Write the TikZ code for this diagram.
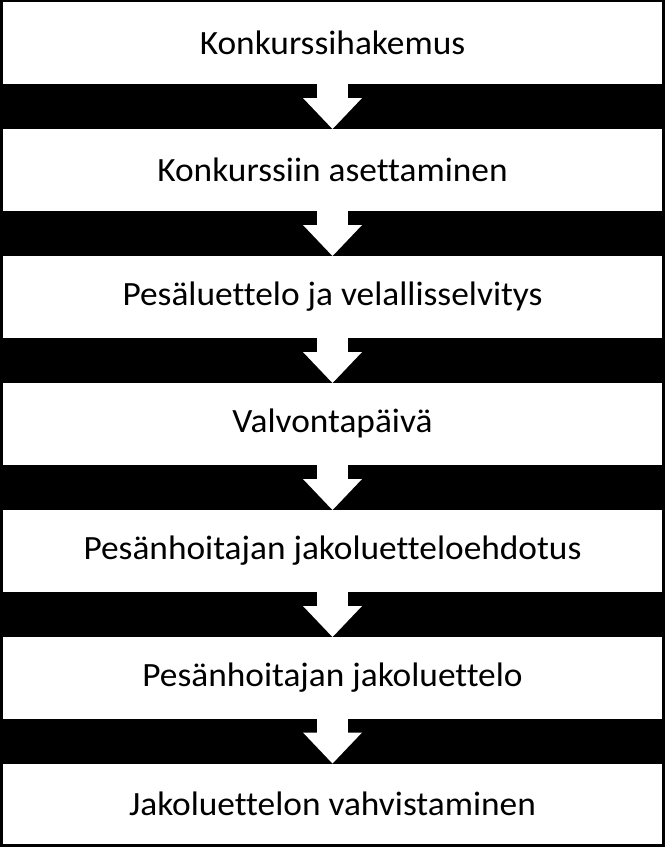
\documentclass[tikz,border=0pt]{standalone}
\usepackage{fontspec}
\setmainfont{Carlito}[FakeStretch=1.04,Ligatures=NoCommon]
\usetikzlibrary{arrows.meta}

\begin{document}
\begin{tikzpicture}[x=1pt,y=-1pt,
    stage/.style={fill=white,minimum width=659pt,minimum height=81.5pt,inner sep=0pt,outer sep=0pt,font=\fontsize{34}{40}\selectfont},
    flow/.style={draw=white,line width=31pt,-{Triangle[width=59pt,length=31pt,line width=0pt 0]}}]
        \fill[black] (0,0) rectangle (665,847);
        \useasboundingbox (0,0) rectangle (665,847);

        \node (hakemus) at (332.5,42.75) [stage] {Konkurssihakemus};
        \node (asetus) at (332.5,169.75) [stage] {Konkurssiin asettaminen};
        \node (luettelo) at (332.5,296.75) [stage] {Pesäluettelo ja velallisselvitys};
        \node (valvonta) at (332.5,423.75) [stage] {Valvontapäivä};
        \node (ehdotus) at (332.5,550.75) [stage] {Pesänhoitajan jakoluetteloehdotus};
        \node (jako) at (332.5,677.75) [stage] {Pesänhoitajan jakoluettelo};
        \node (vahvistus) at (332.5,803.5) [stage,minimum height=80pt] {Jakoluettelon vahvistaminen};

        \draw[flow] (hakemus) -- (asetus);
        \draw[flow] (asetus) -- (luettelo);
        \draw[flow] (luettelo) -- (valvonta);
        \draw[flow] (valvonta) -- (ehdotus);
        \draw[flow] (ehdotus) -- (jako);
        \draw[flow] (jako) -- (vahvistus);
    \end{tikzpicture}
\end{document}
